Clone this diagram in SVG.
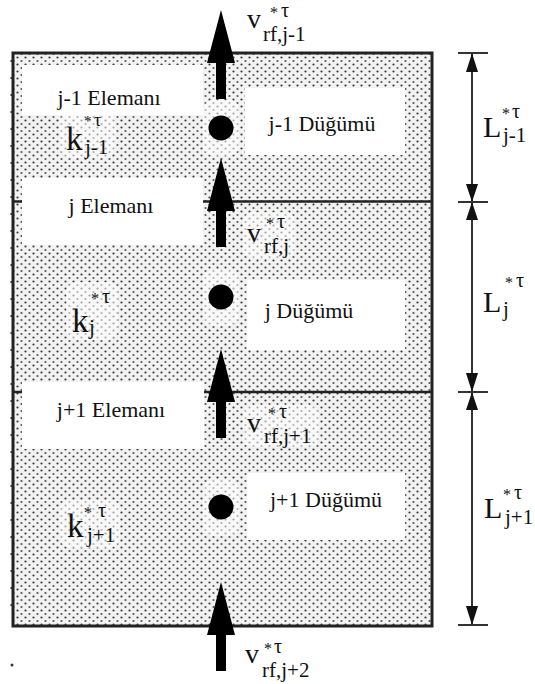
<svg xmlns="http://www.w3.org/2000/svg" width="535" height="684" viewBox="0 0 535 684" font-family="Liberation Serif, serif">
<defs>
<pattern id="stip" width="8" height="7" patternUnits="userSpaceOnUse">
<rect width="8" height="7" fill="#f2f2f2"/>
<circle cx="1.5" cy="1.5" r="1.1" fill="#3a3a3a"/>
<circle cx="5.5" cy="5" r="1.1" fill="#555"/>
</pattern>
<path id="bigArrow" d="M0,0 L14,53 L5,53 L5,89 L-5,89 L-5,53 L-14,53 Z"/>
</defs>
<style>
.t{fill:#111}
.lbl{font-size:22px}
.big{font-size:33px}
.bigL{font-size:30px}
.mid{font-size:28px}
.star{font-size:16px}
.tau{font-size:20px}
.sub{font-size:21px}
.wb{fill:#fff}
.halo{fill:#fff;opacity:.55}
.arr{fill:#000}
.dim{stroke:#333;stroke-width:2;fill:none}
.dh{fill:#111}
.div{stroke:#222;stroke-width:2.5}
</style>

<g id="body">
<rect x="13" y="53" width="419" height="573" fill="url(#stip)" stroke="#222" stroke-width="3"/>
<line x1="11.5" y1="60" x2="11.5" y2="620" stroke="#333" stroke-width="2" stroke-dasharray="2 15"/>
<line class="div" x1="13" y1="201.5" x2="432" y2="201.5"/>
<line class="div" x1="13" y1="392" x2="432" y2="392"/>
</g>

<g id="halos">
<rect class="halo" x="60" y="112" width="55" height="46" rx="10"/>
<rect class="halo" x="66" y="282" width="52" height="58" rx="10"/>
<rect class="halo" x="60" y="500" width="60" height="48" rx="10"/>
<rect class="halo" x="243" y="212" width="52" height="46" rx="10"/>
<rect class="halo" x="243" y="405" width="76" height="42" rx="10"/>
<rect class="halo" x="203" y="100" width="36" height="56" rx="10"/>
<rect class="halo" x="203" y="270" width="36" height="56" rx="10"/>
<rect class="halo" x="203" y="480" width="36" height="56" rx="10"/>
</g>

<g id="element-j-1">
<rect class="wb" x="22" y="65" width="181" height="50"/>
<text class="t lbl" x="109" y="105" text-anchor="middle">j-1 Elemanı</text>
</g>

<g id="node-j-1">
<rect class="wb" x="245" y="88" width="160" height="67"/>
<text class="t lbl" x="322" y="131" text-anchor="middle">j-1 Düğümü</text>
<circle cx="221" cy="128" r="12.5" fill="#000"/>
</g>

<g id="element-j">
<rect class="wb" x="22" y="178" width="181" height="67"/>
<text class="t lbl" x="111" y="213" text-anchor="middle">j Elemanı</text>
</g>

<g id="node-j">
<rect class="wb" x="247" y="280" width="158" height="70"/>
<text class="t lbl" x="309" y="318" text-anchor="middle">j Düğümü</text>
<circle cx="221" cy="297" r="12.5" fill="#000"/>
</g>

<g id="element-j1">
<rect class="wb" x="22" y="382" width="182" height="67"/>
<text class="t lbl" x="111" y="417" text-anchor="middle">j+1 Elemanı</text>
</g>

<g id="node-j1">
<rect class="wb" x="247" y="473" width="158" height="67"/>
<text class="t lbl" x="326" y="507" text-anchor="middle">j+1 Düğümü</text>
<circle cx="221" cy="507" r="12.5" fill="#000"/>
</g>

<g id="k-labels">
<text id="k-j-1" class="t" x="66" y="150"><tspan class="big">k</tspan><tspan font-size="15" x="84" y="126">*</tspan><tspan font-size="18" x="94" y="126">τ</tspan><tspan class="sub" x="85" y="154">j-1</tspan></text>
<text id="k-j" class="t" x="72" y="332"><tspan class="big">k</tspan><tspan class="star" x="91" y="304">*</tspan><tspan class="tau" x="102" y="303">τ</tspan><tspan class="sub" x="89" y="334">j</tspan></text>
<text id="k-j1" class="t" x="67" y="537"><tspan class="big">k</tspan><tspan class="star" x="84" y="518">*</tspan><tspan class="tau" x="98" y="517">τ</tspan><tspan class="sub" x="87" y="542">j+1</tspan></text>
</g>

<g id="connectors">
<use href="#bigArrow" class="arr" x="221" y="10"/>
<use href="#bigArrow" class="arr" x="221" y="158"/>
<use href="#bigArrow" class="arr" x="221" y="349"/>
<use href="#bigArrow" class="arr" x="221" y="582"/>

<line class="dim" x1="472" y1="53" x2="472" y2="625"/>
<line class="dim" x1="458" y1="53" x2="488" y2="53"/>
<line class="dim" x1="458" y1="202" x2="488" y2="202"/>
<line class="dim" x1="458" y1="392" x2="488" y2="392"/>
<line class="dim" x1="458" y1="625" x2="488" y2="625"/>
<polygon class="dh" points="472,53 466,72 478,72"/>
<polygon class="dh" points="472,202 466,184 478,184"/>
<polygon class="dh" points="472,202 466,220 478,220"/>
<polygon class="dh" points="472,392 466,373 478,373"/>
<polygon class="dh" points="472,392 466,410 478,410"/>
<polygon class="dh" points="472,625 466,606 478,606"/>
</g>

<g id="v-labels">
<text id="v-j-1" class="t" x="247" y="28"><tspan class="mid">v</tspan><tspan class="star" x="270" y="18">*</tspan><tspan class="tau" x="281" y="17">τ</tspan><tspan class="sub" x="263" y="41">rf,j-1</tspan></text>
<text id="v-j" class="t" x="247" y="242"><tspan class="mid">v</tspan><tspan class="star" x="266" y="229">*</tspan><tspan class="tau" x="277" y="228">τ</tspan><tspan class="sub" x="264" y="253">rf,j</tspan></text>
<text id="v-j1" class="t" x="247" y="432"><tspan class="mid">v</tspan><tspan class="star" x="268" y="419">*</tspan><tspan class="tau" x="279" y="418">τ</tspan><tspan class="sub" x="264" y="443">rf,j+1</tspan></text>
<text id="v-j2" class="t" x="245" y="663"><tspan class="mid">v</tspan><tspan class="star" x="264" y="654">*</tspan><tspan class="tau" x="274" y="653">τ</tspan><tspan class="sub" x="262" y="677">rf,j+2</tspan></text>
</g>

<g id="L-labels">
<text id="L-j-1" class="t" x="483" y="137"><tspan class="bigL">L</tspan><tspan class="star" x="502" y="119">*</tspan><tspan class="tau" x="512" y="118">τ</tspan><tspan class="sub" x="503" y="142">j-1</tspan></text>
<text id="L-j" class="t" x="483" y="312"><tspan class="bigL">L</tspan><tspan class="star" x="505" y="288">*</tspan><tspan class="tau" x="516" y="287">τ</tspan><tspan class="sub" x="503" y="316">j</tspan></text>
<text id="L-j1" class="t" x="484" y="518"><tspan class="bigL">L</tspan><tspan class="star" x="503" y="500">*</tspan><tspan class="tau" x="514" y="499">τ</tspan><tspan class="sub" x="505" y="524">j+1</tspan></text>
</g>

<circle cx="12" cy="665" r="1.5" fill="#333"/>
</svg>
